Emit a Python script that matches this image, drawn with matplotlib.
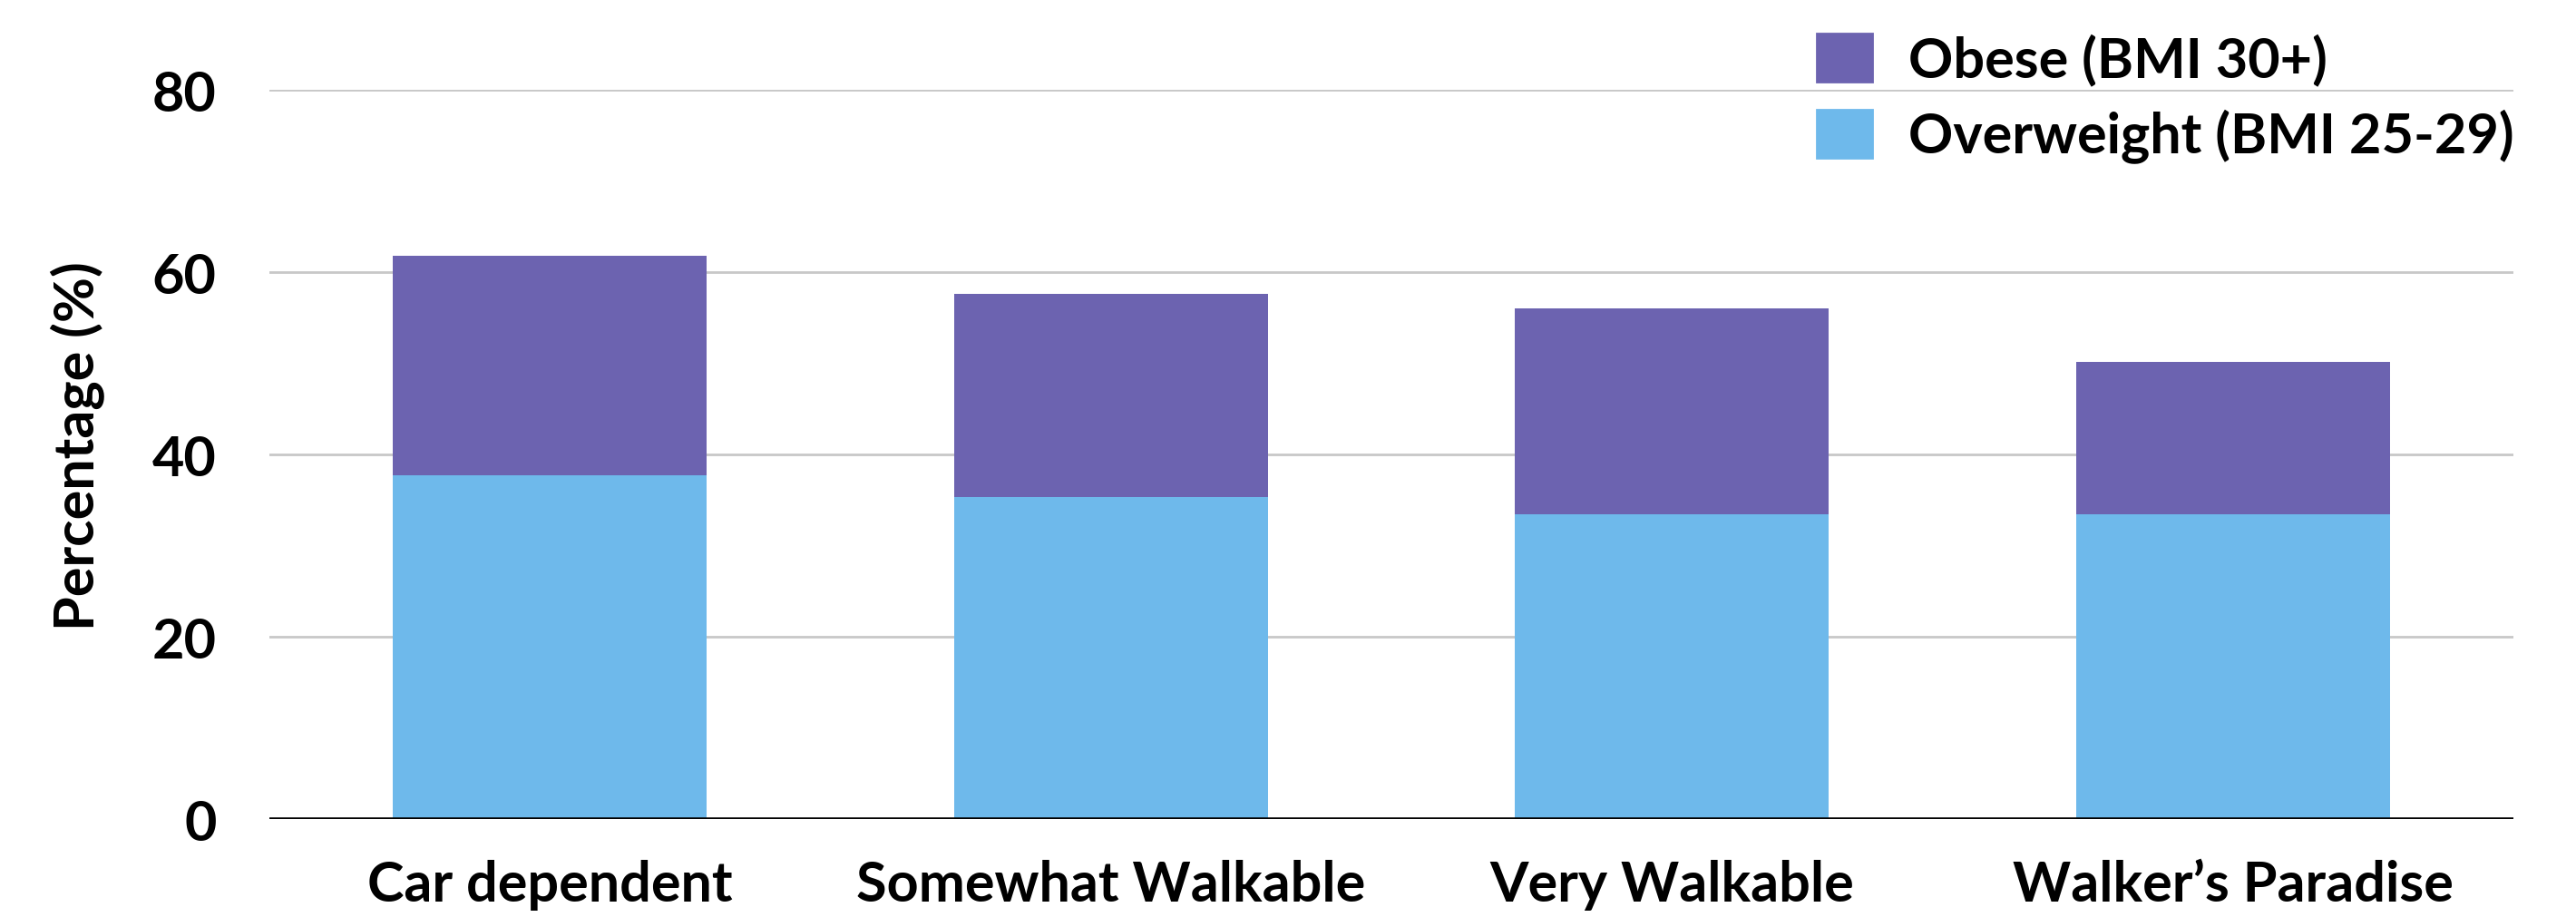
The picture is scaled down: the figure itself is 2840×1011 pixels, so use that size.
import matplotlib
matplotlib.use('Agg')
import matplotlib.pyplot as plt
from matplotlib.patches import Patch
import numpy as np

# Data
categories = ['Car dependent', 'Somewhat Walkable', 'Very Walkable', "Walker\u2019s Paradise"]
overweight = [37.7, 35.3, 33.4, 33.4]
obese = [24.1, 22.3, 22.6, 16.7]
series_labels = ['Obese (BMI 30+)', 'Overweight (BMI 25-29)']
y_ticks = [0, 20, 40, 60, 80]

purple = '#6C63B0'
blue = '#6EB9EB'

plt.rcParams['font.family'] = ['Lato', 'DejaVu Sans']
plt.rcParams['font.weight'] = 'bold'

fig = plt.figure(figsize=(14.2, 5.06), dpi=200)
ax = fig.add_axes([0.1046, 0.1067, 0.8711, 0.7945])

x = np.arange(len(categories))
width = 0.56
ax.bar(x, overweight, width, color=blue, zorder=2)
ax.bar(x, obese, width, bottom=overweight, color=purple, zorder=2)

ax.set_xlim(-0.5, len(categories) - 0.5)
ax.set_ylim(0, 80)
ax.set_yticks(y_ticks)
ax.set_xticks(x)
ax.set_xticklabels(categories, fontsize=22, fontweight='bold')
ax.tick_params(axis='y', length=0, pad=21, labelsize=22)
ax.tick_params(axis='x', length=0, pad=16)
for lab in ax.get_yticklabels():
    lab.set_fontweight('bold')

ax.grid(axis='y', color='#c8c8c8', linewidth=1.0, zorder=0)
ax.axhline(0, color='black', linewidth=1.3, zorder=3)
for s in ax.spines.values():
    s.set_visible(False)

ax.set_ylabel('Percentage (%)', fontsize=22, fontweight='bold')
ax.yaxis.set_label_coords(-0.073, 0.513)

handles = [Patch(color=purple), Patch(color=blue)]
fig.legend(handles, series_labels, loc='upper right',
           bbox_to_anchor=(0.976, 0.963), frameon=False, fontsize=22,
           handlelength=1.0, handleheight=0.97, handletextpad=0.65,
           labelspacing=0.42, borderpad=0, borderaxespad=0)

fig.savefig('out.png', dpi=200)
